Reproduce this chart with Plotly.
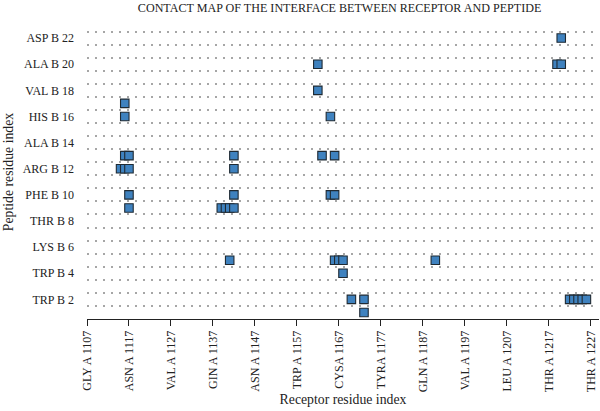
import plotly.graph_objects as go

# ---- data ----
x_tickvals = [1107, 1117, 1127, 1137, 1147, 1157, 1167, 1177, 1187, 1197, 1207, 1217, 1227]
x_ticktext = ["GLY A 1107", "ASN A 1117", "VAL A 1127", "GIN A 1137", "ASN A 1147",
              "TRP A 1157", "CYSA 1167", "TYRA 1177", "GLN A 1187", "VAL A 1197",
              "LEU A 1207", "THR A 1217", "THR A 1227"]
y_tickvals = [2, 4, 6, 8, 10, 12, 14, 16, 18, 20, 22]
y_ticktext = ["TRP B 2", "TRP B 4", "LYS B 6", "THR B 8", "PHE B 10", "ARG B 12",
              "ALA B 14", "HIS B 16", "VAL B 18", "ALA B 20", "ASP B 22"]

# contacts: receptor residue index (x) vs peptide residue index (y)
receptor_residue = [1220,
                    1162, 1219, 1220,
                    1162,
                    1116,
                    1116, 1165,
                    1116, 1117, 1142, 1163, 1166,
                    1115, 1116, 1117, 1142,
                    1117, 1142, 1165, 1166,
                    1117, 1139, 1140, 1141, 1142,
                    1141, 1166, 1167, 1168, 1190,
                    1168,
                    1170, 1173, 1222, 1223, 1224, 1225, 1226,
                    1173]
peptide_residue = [22,
                   20, 20, 20,
                   18,
                   17,
                   16, 16,
                   13, 13, 13, 13, 13,
                   12, 12, 12, 12,
                   10, 10, 10, 10,
                   9, 9, 9, 9, 9,
                   5, 5, 5, 5, 5,
                   4,
                   2, 2, 2, 2, 2, 2, 2,
                   1]

FONT = "Liberation Serif"
TXT = "#222"

fig = go.Figure()
fig.add_trace(go.Scatter(
    x=receptor_residue, y=peptide_residue, mode="markers",
    marker=dict(symbol="square", size=8.5, color="#3f82bf",
                line=dict(color="#1f2a33", width=1.1)),
    hoverinfo="x+y", showlegend=False,
))

fig.update_layout(
    width=600, height=411,
    margin=dict(l=87, r=1, t=25, b=92),
    plot_bgcolor="white", paper_bgcolor="white",
    font=dict(family=FONT, size=12, color=TXT),
    title=dict(text="CONTACT MAP OF THE INTERFACE BETWEEN RECEPTOR AND PEPTIDE",
               font=dict(family=FONT, size=12.1, color=TXT),
               x=0.566, xref="container", xanchor="center",
               y=1 - 7.5 / 411, yref="container", yanchor="middle"),
)

fig.update_xaxes(
    range=[1107, 1229], tickmode="array", tickvals=x_tickvals, ticktext=x_ticktext,
    tickangle=-90, ticks="outside", ticklen=6, tickcolor=TXT, tickwidth=1,
    showline=True, linecolor=TXT, linewidth=1, showgrid=False, zeroline=False,
    tickfont=dict(family=FONT, size=12, color=TXT),
    title=dict(text="Receptor residue index", font=dict(family=FONT, size=13.75, color=TXT),
               standoff=3),
)

fig.update_yaxes(
    range=[0.5, 23], tickmode="array", tickvals=y_tickvals, ticktext=y_ticktext,
    ticks="", showline=False, showgrid=False, zeroline=False, ticklabelstandoff=12,
    tickfont=dict(family=FONT, size=12, color=TXT),
    title=dict(text="Peptide residue index", font=dict(family=FONT, size=13.75, color=TXT),
               standoff=5),
    minor=dict(tick0=0.5, dtick=1, showgrid=True, gridcolor="#a6a6a6", gridwidth=1.5,
               griddash="2px,6px", ticks=""),
)

fig.write_html("out.html")
